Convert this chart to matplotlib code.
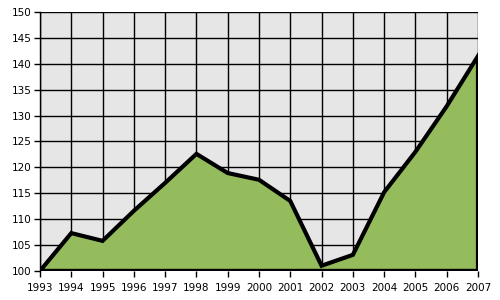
import matplotlib
matplotlib.use("Agg")
import matplotlib.pyplot as plt

years = [1993, 1994, 1995, 1996, 1997, 1998, 1999, 2000, 2001, 2002, 2003, 2004, 2005, 2006, 2007]
values = [100.0, 107.3, 105.8, 111.6, 117.0, 122.6, 118.9, 117.6, 113.5, 101.0, 103.1, 115.2, 123.0, 131.8, 141.5]
y_ticks = list(range(100, 151, 5))

fig = plt.figure(figsize=(5, 3), dpi=100)
ax = fig.add_axes([0.08, 0.097, 0.876, 0.863])
ax.set_facecolor("#e6e6e6")

# filled polygon with a thick black outline (incl. baseline and right edge)
xs = years + [years[-1], years[0]]
ys = values + [100, 100]
ax.fill(xs, ys, facecolor="#94bb5c", edgecolor="black", linewidth=3, joinstyle="miter", zorder=3)

ax.set_xlim(years[0], years[-1])
ax.set_ylim(100, 150)
ax.set_xticks(years)
ax.set_yticks(y_ticks)
ax.grid(True, color="black", linewidth=1)
ax.set_axisbelow(True)

for side in ["top", "right", "bottom"]:
    ax.spines[side].set_visible(False)
ax.spines["left"].set_color("black")
ax.spines["left"].set_linewidth(1)

ax.tick_params(axis="both", length=4, width=1, color="black", labelsize=7.5, pad=2)
ax.tick_params(axis="x", pad=5)
for lbl in ax.get_xticklabels() + ax.get_yticklabels():
    lbl.set_family("DejaVu Sans")

fig.savefig("out.png", dpi=100)
